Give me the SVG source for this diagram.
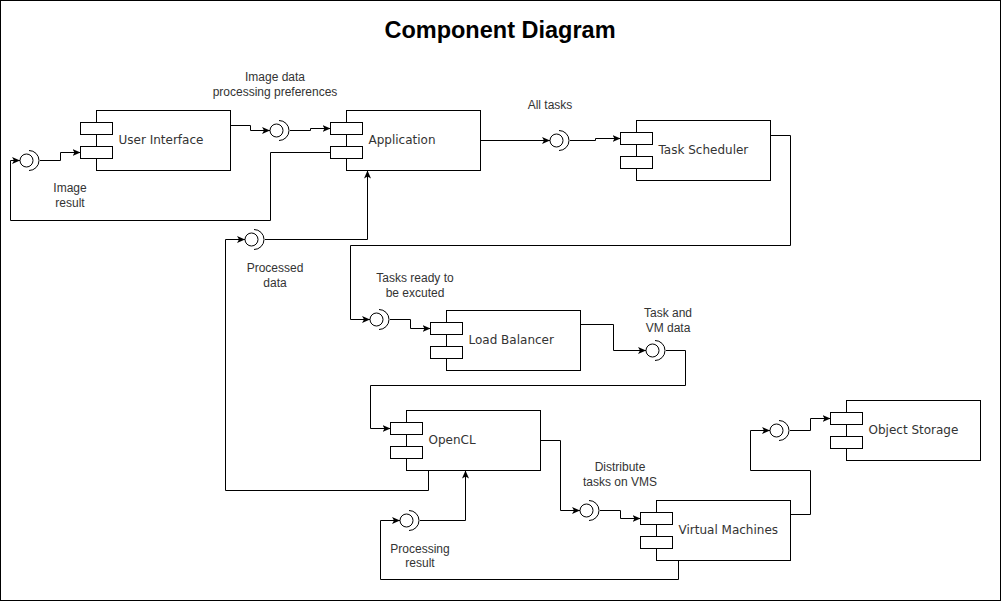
<svg xmlns="http://www.w3.org/2000/svg" width="1001" height="601" viewBox="0 0 1001 601">
<style>
.main{fill:#fff;stroke:#000;stroke-width:1}
.port{fill:#fff;stroke:#000;stroke-width:1}
.clabel{font-family:"DejaVu Sans",sans-serif;font-size:12px;fill:#333}
.elabel{font-family:"Liberation Sans",Arial,sans-serif;font-size:12px;fill:#333;text-anchor:middle}
.edge{fill:none;stroke:#000;stroke-width:1}
.circ{fill:#fff;stroke:#000;stroke-width:1}
.sock{fill:none;stroke:#000;stroke-width:1}
</style>
<defs>
<marker id="arr" markerUnits="userSpaceOnUse" markerWidth="10" markerHeight="10" refX="8" refY="4" orient="auto">
<path d="M0,0.5 L8,4 L0,7.5 L2,4 z" fill="#000"/>
</marker>
<g id="comp">
<rect class="main" x="16" y="0" width="134" height="60"/>
<rect class="port" x="0" y="12" width="32" height="12"/>
<rect class="port" x="0" y="36" width="32" height="12"/>
</g>
<g id="iface">
<circle class="circ" cx="6.5" cy="0" r="6.5"/>
<path class="sock" d="M9,-10 A10,10 0 0 1 9,10"/>
</g>
</defs>
<rect x="0.5" y="0.5" width="1000" height="600" fill="#fff" stroke="#000"/>
<text x="500" y="38" text-anchor="middle" font-family="Liberation Sans,Arial,sans-serif" font-weight="bold" font-size="23.5" fill="#000">Component Diagram</text>

<g id="connectors">
<path class="edge" d="M230.5,125.5 H250.5 V130.5 H270" marker-end="url(#arr)"/>
<path class="edge" d="M290,130.5 H310.5 V128.5 H330.5" marker-end="url(#arr)"/>
<path class="edge" d="M330.5,152.5 H270.5 V220.5 H10.5 V160.5 H20" marker-end="url(#arr)"/>
<path class="edge" d="M40,160.5 H60.5 V152.5 H80.5" marker-end="url(#arr)"/>
<path class="edge" d="M480.5,140.5 H550" marker-end="url(#arr)"/>
<path class="edge" d="M570,140.5 H595.5 V138.5 H620.5" marker-end="url(#arr)"/>
<path class="edge" d="M770.5,135.5 H790.5 V245.5 H350.5 V319.5 H370" marker-end="url(#arr)"/>
<path class="edge" d="M390,319.5 H410.5 V328.5 H430.5" marker-end="url(#arr)"/>
<path class="edge" d="M428.5,470.5 V490.5 H225.5 V239.5 H245" marker-end="url(#arr)"/>
<path class="edge" d="M265,239.5 H367.5 V170.5" marker-end="url(#arr)"/>
<path class="edge" d="M580.5,324.5 H613.5 V350.5 H646" marker-end="url(#arr)"/>
<path class="edge" d="M666,350.5 H685.5 V385.5 H370.5 V428.5 H390.5" marker-end="url(#arr)"/>
<path class="edge" d="M540.5,440.5 H560.5 V510.5 H580" marker-end="url(#arr)"/>
<path class="edge" d="M600,510.5 H620.5 V518.5 H640.5" marker-end="url(#arr)"/>
<path class="edge" d="M790.5,514.5 H810.5 V470.5 H750.5 V430.5 H770" marker-end="url(#arr)"/>
<path class="edge" d="M790,430.5 H810.5 V418.5 H830.5" marker-end="url(#arr)"/>
<path class="edge" d="M678.5,560.5 V579.5 H380.5 V520.5 H400" marker-end="url(#arr)"/>
<path class="edge" d="M420,520.5 H465.5 V470.5" marker-end="url(#arr)"/>
</g>

<g id="interfaces">
<use href="#iface" x="270" y="130.5"/>
<use href="#iface" x="20" y="160.5"/>
<use href="#iface" x="550" y="140.5"/>
<use href="#iface" x="370" y="319.5"/>
<use href="#iface" x="245" y="239.5"/>
<use href="#iface" x="646" y="350.5"/>
<use href="#iface" x="580" y="510.5"/>
<use href="#iface" x="770" y="430.5"/>
<use href="#iface" x="400" y="520.5"/>
</g>

<g id="user-interface" transform="translate(80.5,110.5)"><use href="#comp"/><text class="clabel" x="38" y="33.5">User Interface</text></g>
<g id="application" transform="translate(330.5,110.5)"><use href="#comp"/><text class="clabel" x="38" y="33.5">Application</text></g>
<g id="task-scheduler" transform="translate(620.5,120.5)"><use href="#comp"/><text class="clabel" x="38" y="33.5">Task Scheduler</text></g>
<g id="load-balancer" transform="translate(430.5,310.5)"><use href="#comp"/><text class="clabel" x="38" y="33.5">Load Balancer</text></g>
<g id="opencl" transform="translate(390.5,410.5)"><use href="#comp"/><text class="clabel" x="38" y="33.5">OpenCL</text></g>
<g id="virtual-machines" transform="translate(640.5,500.5)"><use href="#comp"/><text class="clabel" x="38" y="33.5">Virtual Machines</text></g>
<g id="object-storage" transform="translate(830.5,400.5)"><use href="#comp"/><text class="clabel" x="38" y="33.5">Object Storage</text></g>

<g id="labels">
<text class="elabel" x="275" y="81">Image data</text>
<text class="elabel" x="275" y="96">processing preferences</text>
<text class="elabel" x="70" y="192">Image</text>
<text class="elabel" x="70" y="207">result</text>
<text class="elabel" x="550" y="109">All tasks</text>
<text class="elabel" x="275" y="272">Processed</text>
<text class="elabel" x="275" y="287">data</text>
<text class="elabel" x="415" y="282">Tasks ready to</text>
<text class="elabel" x="415" y="297">be excuted</text>
<text class="elabel" x="668" y="317">Task and</text>
<text class="elabel" x="668" y="332">VM data</text>
<text class="elabel" x="620" y="471">Distribute</text>
<text class="elabel" x="620" y="486">tasks on VMS</text>
<text class="elabel" x="420" y="553">Processing</text>
<text class="elabel" x="420" y="567">result</text>
</g>
</svg>
